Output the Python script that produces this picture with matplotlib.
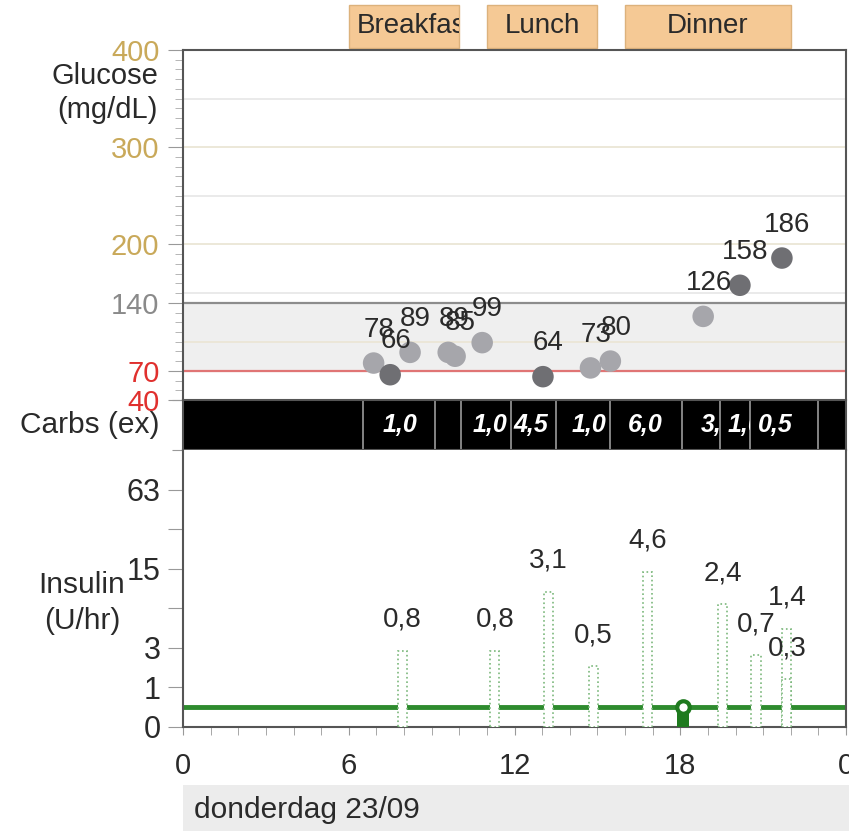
import numpy as np
import matplotlib
matplotlib.use('Agg')
import matplotlib.pyplot as plt
import matplotlib.transforms as mtransforms
from matplotlib.patches import Rectangle
from matplotlib.ticker import MultipleLocator

plt.rcParams['font.family'] = ['Liberation Sans', 'DejaVu Sans']

# ------ data ------

# meals (hours)
meal_names = ['Breakfast', 'Lunch', 'Dinner']
meal_start = [6.0, 11.0, 16.0]
meal_end = [10.0, 15.0, 22.0]

# glucose readings
gluc_time = [6.90, 7.50, 8.22, 9.60, 9.85, 10.83, 13.03, 14.75, 15.47, 18.83, 20.16, 21.68]
gluc_value = [78, 66, 89, 89, 85, 99, 64, 73, 80, 126, 158, 186]
gluc_dark = [False, True, False, False, False, False, True, False, False, False, True, True]

# carbs band
carb_edges = [6.52, 9.12, 10.08, 11.89, 13.49, 15.46, 18.06, 19.44, 20.53, 22.99]
carb_text_x = [7.24, 10.50, 11.95, 14.05, 16.11, 18.75, 19.73, 20.81]
carb_cell_end = [9.12, 11.89, 13.49, 15.46, 18.06, 19.44, 20.53, 22.99]
carb_labels = ['1,0', '1,0', '4,5', '1,0', '6,0', '3,0', '1,0', '0,5']

# insulin
bolus_time = [7.95, 11.29, 13.23, 14.86, 16.83, 19.53, 20.74, 21.86, 21.86]
bolus_rate = [2.8, 2.8, 9.7, 1.9, 14.2, 7.6, 2.5, 4.6, 1.3]
bolus_labels = ['0,8', '0,8', '3,1', '0,5', '4,6', '2,4', '0,7', '1,4', '0,3']
basal_rate = 0.41
event_time = 18.1

gluc_ticks = [40, 70, 140, 200, 300, 400]
gluc_tick_colors = ['#e0302e', '#e0302e', '#8a8a8a', '#c9a95a', '#c9a95a', '#c9a95a']
gluc_grid = [100, 150, 200, 250, 300, 350]
ins_ticks = [0, 1, 3, 7, 15, 31, 63]
ins_tick_labels = ['0', '1', '3', '', '15', '', '63']
hour_ticks = [0, 6, 12, 18, 24]
hour_labels = ['0', '6', '12', '18', '0']

txt = '#2a2a2a'
fs = 20

# ------ plot ------
fig = plt.figure(figsize=(8.49, 8.31), dpi=100)
L, W = 183 / 849, 663 / 849
ax_g = fig.add_axes([L, 1 - 400 / 831, W, 350 / 831])
ax_c = fig.add_axes([L, 1 - 450 / 831, W, 50 / 831])
ax_i = fig.add_axes([L, 1 - 727 / 831, W, 277 / 831])

for ax in (ax_g, ax_c, ax_i):
    ax.set_xlim(0, 24)
    for s in ax.spines.values():
        s.set_color('#555555')
        s.set_linewidth(1.5)

# glucose panel
ax_g.set_ylim(40, 400)
ax_g.axhspan(70, 140, color='#efefef', zorder=0)
for v in gluc_grid:
    ax_g.axhline(v, color='#ebe6d6' if v % 100 == 0 else '#e8e8e8', lw=1.3, zorder=1)
ax_g.axhline(140, color='#8c8c8c', lw=1.6, zorder=1)
ax_g.axhline(70, color='#e07575', lw=1.6, zorder=1)
colors = ['#6f6f73' if d else '#a6a6ab' for d in gluc_dark]
ax_g.scatter(gluc_time, gluc_value, s=240, c=colors, edgecolors='none', zorder=3)
for t, v in zip(gluc_time, gluc_value):
    ax_g.annotate(str(v), (t, v), xytext=(4, 24), textcoords='offset points',
                  ha='center', va='center', fontsize=fs, color=txt, zorder=4)
ax_g.set_yticks(gluc_ticks)
ax_g.set_yticklabels([str(v) for v in gluc_ticks], fontsize=21)
for lab, c in zip(ax_g.get_yticklabels(), gluc_tick_colors):
    lab.set_color(c)
ax_g.yaxis.set_minor_locator(MultipleLocator(10))
ax_g.tick_params(axis='y', which='major', length=11, color='#999999', pad=6)
ax_g.tick_params(axis='y', which='minor', length=6, color='#aaaaaa')
ax_g.set_xticks([])
ax_g.spines['bottom'].set_visible(False)

# meal boxes above the glucose panel
trans = mtransforms.blended_transform_factory(ax_g.transData, ax_g.transAxes)
for name, s, e in zip(meal_names, meal_start, meal_end):
    box = Rectangle((s, 1.006), e - s, 0.124, transform=trans, clip_on=False,
                    facecolor='#f5c995', edgecolor='#dcb27c', lw=1)
    ax_g.add_patch(box)
    t = ax_g.text((s + e) / 2, 1.068, name, transform=trans, ha='center', va='center',
                  fontsize=fs, color=txt)
    fig.canvas.draw()
    bb = t.get_window_extent().transformed(ax_g.transData.inverted())
    if bb.width > (e - s):
        t.set_x(s + 0.3)
        t.set_ha('left')
    t.set_clip_on(True)
    t.set_clip_path(box)

# carbs band
ax_c.set_ylim(0, 1)
ax_c.set_facecolor('black')
ax_c.vlines(carb_edges, 0, 1, color='#9a9a9a', lw=1.2)
for x, e, lab in zip(carb_text_x, carb_cell_end, carb_labels):
    t = ax_c.text(x, 0.5, lab, color='white', fontsize=18, fontweight='bold',
                  fontstyle='italic', ha='left', va='center')
    clip = Rectangle((x - 0.3, 0), e - x + 0.3, 1, transform=ax_c.transData)
    t.set_clip_on(True)
    t.set_clip_path(clip)
ax_c.set_xticks([])
ax_c.set_yticks([0, 1])
ax_c.set_yticklabels([])
ax_c.tick_params(axis='y', length=8, color='#999999')

# insulin panel
fwd = lambda v: np.log2(1 + np.clip(v, -0.999, None))
inv = lambda y: 2.0 ** y - 1
ax_i.set_yscale('function', functions=(fwd, inv))
ax_i.set_ylim(0, 127)
ax_i.axhline(basal_rate, color='#2e8b2e', lw=3.5, zorder=2)
ax_i.bar(bolus_time, bolus_rate, width=0.33, bottom=0, color='white',
         edgecolor='#7cb87c', linestyle=':', lw=1.2, zorder=3)
for t, r, lab in zip(bolus_time, bolus_rate, bolus_labels):
    ax_i.annotate(lab, (t, r), xytext=(0, 13), textcoords='offset points',
                  ha='center', va='bottom', fontsize=fs, color=txt, zorder=5)
ax_i.bar(event_time, 0.3, width=0.4, bottom=0, color='#1f7a1f', zorder=4)
ax_i.plot(event_time, basal_rate, 'o', ms=9, mfc='white', mec='#1f7a1f', mew=3, zorder=5)

ax_i.set_yticks(ins_ticks)
ax_i.set_yticklabels(ins_tick_labels, fontsize=22, color=txt)
ax_i.yaxis.set_minor_locator(plt.NullLocator())
ax_i.tick_params(axis='y', length=11, color='#999999', pad=5)
ax_i.set_xticks(hour_ticks)
ax_i.set_xticklabels(hour_labels, fontsize=21, color=txt)
ax_i.xaxis.set_minor_locator(MultipleLocator(1))
ax_i.tick_params(axis='x', which='both', length=6, color='#999999', pad=12)
ax_i.spines['top'].set_visible(False)

# side labels
fig.text(158 / 849, 1 - 93 / 831, 'Glucose\n(mg/dL)', ha='right', va='center',
         fontsize=21, color=txt, linespacing=1.25)
fig.text(160 / 849, 1 - 425 / 831, 'Carbs (ex)', ha='right', va='center',
         fontsize=21.5, color=txt)
fig.text(82 / 849, 1 - 603 / 831, 'Insulin\n(U/hr)', ha='center', va='center',
         fontsize=21.5, color=txt, linespacing=1.35)

# date bar
fig.add_artist(Rectangle((183 / 849, 0), 666 / 849, 46 / 831, transform=fig.transFigure,
                         facecolor='#ececec', edgecolor='none'))
fig.text(194 / 849, 1 - 810 / 831, 'donderdag 23/09', ha='left', va='center',
         fontsize=21.5, color=txt)

fig.savefig('out.png', dpi=100)
